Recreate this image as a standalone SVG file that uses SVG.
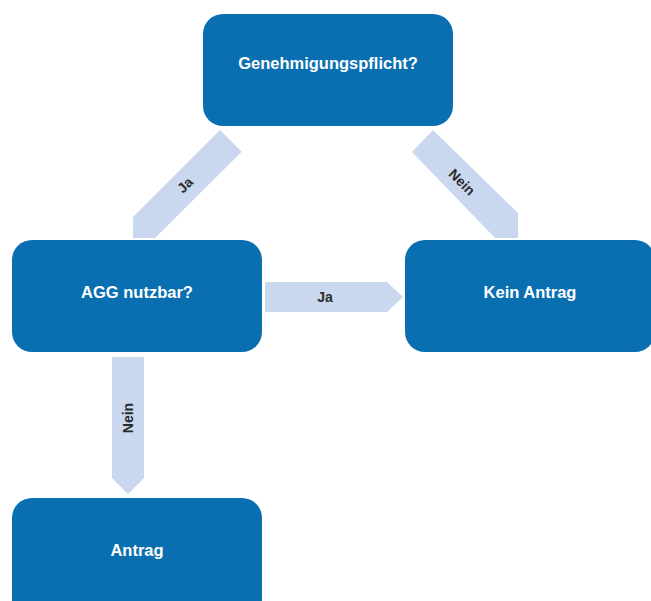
<svg xmlns="http://www.w3.org/2000/svg" width="651" height="601" viewBox="0 0 651 601">
<style>
.node{fill:#0a6fb0}
.nt{fill:#ffffff;font-family:"Liberation Sans",Arial,sans-serif;font-weight:bold;font-size:16.5px;text-anchor:middle;dominant-baseline:central}
.arr{fill:#c9d8ee}
.at{fill:#2b2b2b;font-family:"Liberation Sans",Arial,sans-serif;font-weight:bold;font-size:14px;text-anchor:middle;dominant-baseline:central}
</style>
<rect width="651" height="601" fill="#ffffff"/>
<g id="connectors">
<polygon class="arr" points="220,130 241.7,151.7 155,238 133,238 133,217"/>
<text class="at" transform="translate(185,185) rotate(-45)">Ja</text>
<polygon class="arr" points="433,130 412,152 495,238 518,238 518,213"/>
<text class="at" transform="translate(462,182) rotate(45)">Nein</text>
<polygon class="arr" points="265,282 387,282 403,297 387,312 265,312"/>
<text class="at" x="325" y="297">Ja</text>
<polygon class="arr" points="112,357 144,357 144,478 128,494 112,478"/>
<text class="at" transform="translate(128,418) rotate(-90)">Nein</text>
</g>
<g id="node-genehmigung">
<rect class="node" x="203" y="14" width="250" height="112" rx="20"/>
<text class="nt" x="328" y="63">Genehmigungspflicht?</text>
</g>
<g id="node-agg">
<rect class="node" x="12" y="240" width="250" height="112" rx="20"/>
<text class="nt" x="137" y="292">AGG nutzbar?</text>
</g>
<g id="node-kein-antrag">
<rect class="node" x="405" y="240" width="250" height="112" rx="20"/>
<text class="nt" x="530" y="292">Kein Antrag</text>
</g>
<g id="node-antrag">
<rect class="node" x="12" y="498" width="250" height="130" rx="20"/>
<text class="nt" x="137" y="550">Antrag</text>
</g>
</svg>
